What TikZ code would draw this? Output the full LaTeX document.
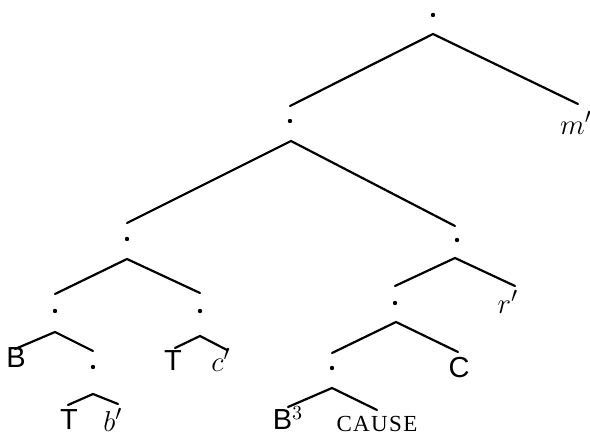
\documentclass[tikz,border=0pt]{standalone}
\usepackage{fontspec}
\newfontfamily\heros{Liberation Sans}
\newfontfamily\capsfont[LetterSpace=6]{Liberation Serif}
\begin{document}
\begin{tikzpicture}[x=0.5pt,y=-0.5pt,
  dotn/.style={circle,fill,inner sep=0pt,minimum size=2.2pt},
  lab/.style={inner sep=0pt,font=\fontsize{15}{17}\selectfont},
  sans/.style={lab,font=\fontsize{14.5}{17}\selectfont\heros},
  capslab/.style={inner sep=0pt,font=\fontsize{11.5}{13}\selectfont\capsfont},
  branch/.style={line width=1.1pt,line cap=round}]
\useasboundingbox (0,0) rectangle (590,439);
% internal nodes (dots)
\node[dotn] (n0) at (433,15) {};
\node[dotn] (n1) at (290,121) {};
\node[dotn] (n2) at (127,239) {};
\node[dotn] (n3) at (457,240) {};
\node[dotn] (n4) at (55,311) {};
\node[dotn] (n5) at (200,311) {};
\node[dotn] (n6) at (93,367) {};
\node[dotn] (n7) at (395,303) {};
\node[dotn] (n8) at (332,368) {};
% leaves
\node[lab] (m) at (576,123) {$m'$};
\node[lab] (r) at (508,302) {$r'$};
\node[sans] (B) at (16,358) {B};
\node[sans] (T1) at (69,420) {T};
\node[lab] (b) at (113,420) {$b'$};
\node[sans] (T2) at (173,361) {T};
\node[lab] (c) at (221,360) {$c'$};
\node[sans] (C) at (459,368) {C};
\node[sans] (B3) at (288,418) {B$^3$};
\node[capslab] (cause) at (377,424) {CAUSE};
% apexes
\coordinate (a0) at (433,34);
\coordinate (a1) at (291,141);
\coordinate (a2) at (127,259);
\coordinate (a3) at (455,258);
\coordinate (a4) at (55,332);
\coordinate (a5) at (200,336);
\coordinate (a6) at (93,394);
\coordinate (a7) at (396,322);
\coordinate (a8) at (332,388);
% branch ends
\coordinate (e1) at (290,106);
\coordinate (em) at (578,104);
\coordinate (e2) at (127,223);
\coordinate (e3) at (455,226);
\coordinate (e4) at (55,294);
\coordinate (e5) at (200,293);
\coordinate (eB) at (15,349);
\coordinate (e6) at (93,351);
\coordinate (eT1) at (68,405);
\coordinate (eb) at (118,404);
\coordinate (eT2) at (175,348);
\coordinate (ec) at (227,350);
\coordinate (e7) at (395,286);
\coordinate (er) at (515,286);
\coordinate (e8) at (332,353);
\coordinate (eC) at (458,352);
\coordinate (eB3) at (288,407);
\coordinate (ecause) at (377,410);
% branches
\draw[branch] (e1) -- (a0) -- (em);
\draw[branch] (e2) -- (a1) -- (e3);
\draw[branch] (e4) -- (a2) -- (e5);
\draw[branch] (eB) -- (a4) -- (e6);
\draw[branch] (eT1) -- (a6) -- (eb);
\draw[branch] (eT2) -- (a5) -- (ec);
\draw[branch] (e7) -- (a3) -- (er);
\draw[branch] (e8) -- (a7) -- (eC);
\draw[branch] (eB3) -- (a8) -- (ecause);
\end{tikzpicture}
\end{document}
